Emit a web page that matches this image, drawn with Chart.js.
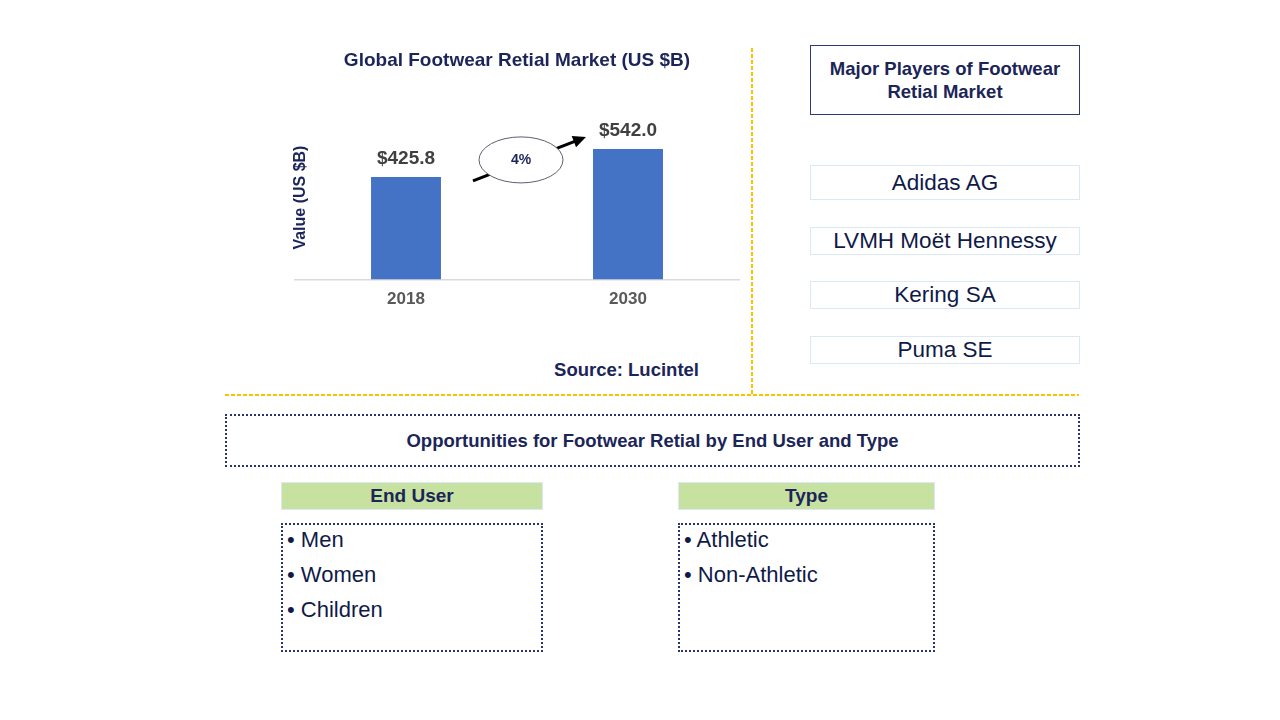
<!DOCTYPE html>
<html lang="en">
<head>
    <meta charset="UTF-8">
    <title>Global Footwear Retail Market</title>
    <script src="https://cdn.jsdelivr.net/npm/chart.js"></script>
    <style>
        body {
            margin: 0;
            width: 1280px;
            height: 720px;
            background: #fff;
            font-family: "Liberation Sans", Arial, sans-serif;
            color: #1b2558;
            position: relative;
            overflow: hidden;
        }
        .abs { position: absolute; box-sizing: border-box; }
        #chartBox { left: 225px; top: 49px; width: 525px; height: 263px; }
        .vline {
            left: 751px; top: 48px; width: 1.5px; height: 346px;
            background: repeating-linear-gradient(to bottom, #ffc000 0 4px, transparent 4px 6px);
        }
        .hline {
            left: 225px; top: 394px; width: 854px; height: 1.5px;
            background: repeating-linear-gradient(to right, #ffc000 0 4px, transparent 4px 6px);
        }
        .source { left: 500px; top: 359px; width: 199px; text-align: right; font-weight: bold; font-size: 18.5px; }
        .players-head {
            left: 810px; top: 45px; width: 270px; height: 70px;
            border: 1.5px solid #2f3b6e; font-weight: bold; font-size: 18.5px;
            display: flex; align-items: center; justify-content: center; text-align: center; line-height: 23px;
        }
        .player {
            left: 810px; width: 270px; height: 28px;
            border: 1.5px solid #dbe8f6; font-size: 22.5px; color: #0f1a48;
            display: flex; align-items: center; justify-content: center;
        }
        .opp {
            left: 225px; top: 414px; width: 855px; height: 53px;
            border: 2px dotted #2a3570; font-weight: bold; font-size: 18.5px;
            display: flex; align-items: center; justify-content: center;
        }
        .seg-head {
            top: 482px; height: 28px; background: #c6e1a0; border: 1px solid #dbe8f6;
            font-weight: bold; font-size: 19px;
            display: flex; align-items: center; justify-content: center;
        }
        .seg-list {
            top: 523px; height: 129px; border: 2px dotted #2a3570;
            font-size: 22px; color: #0f1a48; padding: 0 0 0 4px; line-height: 35px;
        }
        .seg-list div { margin-top: -3px; }
    </style>
</head>
<body>
    <div id="chartBox" class="abs"><canvas id="marketChart"></canvas></div>
    <div class="abs vline"></div>
    <div class="abs hline"></div>
    <div class="abs source">Source: Lucintel</div>

    <div class="abs players-head">Major Players of Footwear<br>Retial Market</div>
    <div id="players"></div>

    <div class="abs opp">Opportunities for Footwear Retial by End User and Type</div>
    <div class="abs seg-head" style="left:281px;width:262px;">End User</div>
    <div class="abs seg-head" style="left:678px;width:257px;">Type</div>
    <div class="abs seg-list" style="left:281px;width:262px;"><div id="endUserList"></div></div>
    <div class="abs seg-list" style="left:678px;width:257px;"><div id="typeList"></div></div>

    <script>
        const years = ['2018', '2030'];
        const marketValues = [425.8, 542.0];
        const cagrLabel = '4%';
        const players = ['Adidas AG', 'LVMH Moët Hennessy', 'Kering SA', 'Puma SE'];
        const endUsers = ['Men', 'Women', 'Children'];
        const types = ['Athletic', 'Non-Athletic'];

        // side boxes
        const playerTops = [165, 227, 281, 336];
        const playersDiv = document.getElementById('players');
        players.forEach((p, i) => {
            const d = document.createElement('div');
            d.className = 'abs player';
            d.style.top = playerTops[i] + 'px';
            if (i === 0) d.style.height = '35px';
            d.textContent = p;
            playersDiv.appendChild(d);
        });
        document.getElementById('endUserList').innerHTML = endUsers.map(s => '• ' + s).join('<br>');
        document.getElementById('typeList').innerHTML = types.map(s => '• ' + s).join('<br>');

        const navy = '#1b2558';

        const decorations = {
            id: 'decorations',
            afterDatasetsDraw(chart) {
                const ctx = chart.ctx;
                const meta = chart.getDatasetMeta(0);
                const area = chart.chartArea;

                // value labels
                ctx.save();
                ctx.font = 'bold 19px "Liberation Sans", Arial';
                ctx.fillStyle = '#404040';
                ctx.textAlign = 'center';
                ctx.textBaseline = 'middle';
                meta.data.forEach((bar, i) => {
                    ctx.fillText('$' + marketValues[i].toFixed(1), bar.x, bar.y - 18);
                });

                // y title
                ctx.save();
                ctx.translate(area.left + 6, area.bottom - 82);
                ctx.rotate(-Math.PI / 2);
                ctx.font = 'bold 16px "Liberation Sans", Arial';
                ctx.fillStyle = navy;
                ctx.fillText('Value (US $B)', 0, 0);
                ctx.restore();

                // growth arrow + ellipse
                const b0 = meta.data[0], b1 = meta.data[1];
                const midX = (b0.x + b1.x) / 2;
                const x1 = b0.x + 67, y1 = b0.y + 4;
                const x2 = b1.x - 42, y2 = b1.y - 12;
                const ang = Math.atan2(y2 - y1, x2 - x1);
                ctx.strokeStyle = '#000';
                ctx.fillStyle = '#000';
                ctx.lineWidth = 3;
                ctx.beginPath();
                ctx.moveTo(x1, y1);
                ctx.lineTo(x2 - 10 * Math.cos(ang), y2 - 10 * Math.sin(ang));
                ctx.stroke();
                ctx.beginPath();
                ctx.moveTo(x2, y2);
                ctx.lineTo(x2 - 13 * Math.cos(ang) + 6 * Math.sin(ang), y2 - 13 * Math.sin(ang) - 6 * Math.cos(ang));
                ctx.lineTo(x2 - 13 * Math.cos(ang) - 6 * Math.sin(ang), y2 - 13 * Math.sin(ang) + 6 * Math.cos(ang));
                ctx.closePath();
                ctx.fill();

                const cy = (b0.y + b1.y) / 2 - 3;
                ctx.beginPath();
                ctx.ellipse(midX + 4, cy, 42, 23, 0, 0, Math.PI * 2);
                ctx.fillStyle = '#fff';
                ctx.fill();
                ctx.lineWidth = 1;
                ctx.strokeStyle = '#5a6070';
                ctx.stroke();
                ctx.fillStyle = navy;
                ctx.font = 'bold 14px "Liberation Sans", Arial';
                ctx.fillText(cagrLabel, midX + 4, cy);
                ctx.restore();
            }
        };

        new Chart(document.getElementById('marketChart'), {
            type: 'bar',
            data: {
                labels: years,
                datasets: [{
                    data: marketValues,
                    backgroundColor: '#4472c4',
                    barPercentage: 0.63,
                    categoryPercentage: 0.5
                }]
            },
            options: {
                responsive: true,
                maintainAspectRatio: false,
                animation: false,
                layout: { padding: { left: 70, right: 11, top: 0, bottom: 0 } },
                plugins: {
                    legend: { display: false },
                    tooltip: { enabled: false },
                    title: {
                        display: true,
                        text: 'Global Footwear Retial Market (US $B)',
                        color: navy,
                        font: { family: '"Liberation Sans", Arial', size: 19, weight: 'bold' },
                        padding: { top: 0, bottom: 39 }
                    }
                },
                scales: {
                    x: {
                        grid: { display: false },
                        border: { display: true, color: '#d9d9d9', width: 1.5 },
                        ticks: {
                            color: '#595959',
                            padding: 2,
                            font: { family: '"Liberation Sans", Arial', size: 17, weight: 'bold' }
                        }
                    },
                    y: {
                        display: false,
                        min: 0,
                        max: 700
                    }
                }
            },
            plugins: [decorations]
        });
    </script>
</body>
</html>
